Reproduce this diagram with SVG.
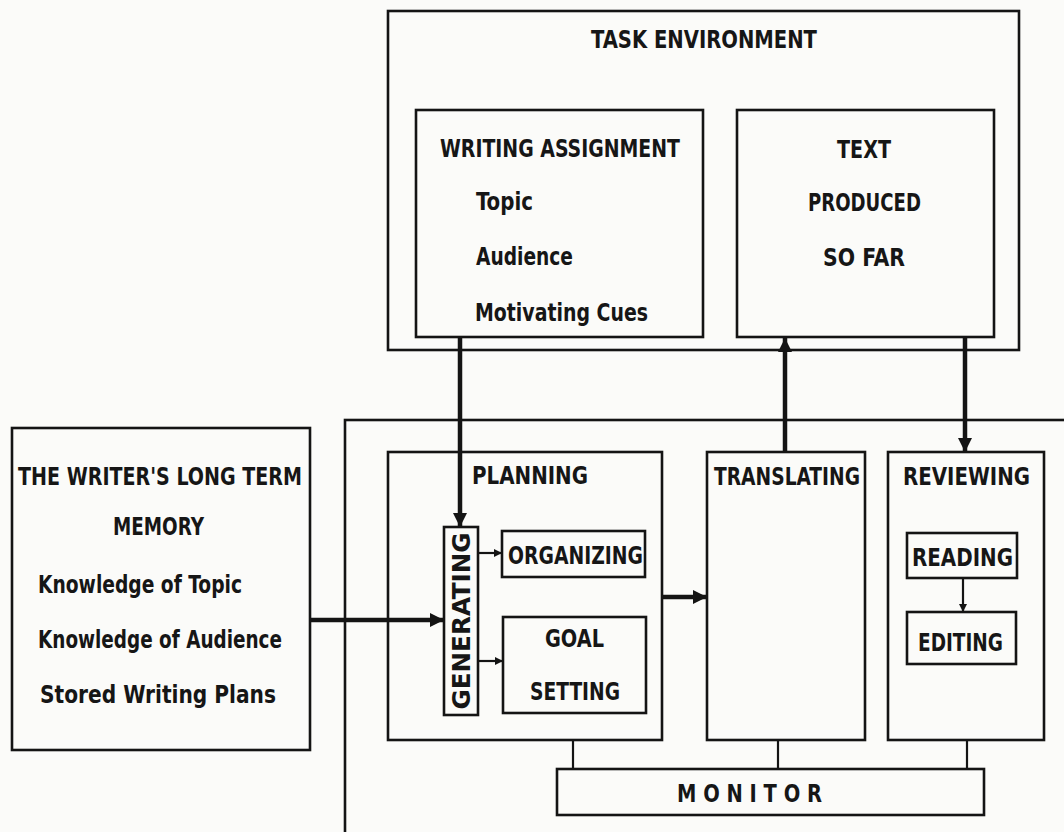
<svg xmlns="http://www.w3.org/2000/svg" width="1064" height="832" viewBox="0 0 1064 832">
  <defs>
    <style>
      .box { fill: none; stroke: #141414; stroke-width: 2.6; }
      .bg { fill: #fbfbf9; }
      .t { font-family: "DejaVu Sans Condensed", "DejaVu Sans", sans-serif; font-weight: bold; font-size: 25px; fill: #161616; }
      .heavy { stroke: #141414; stroke-width: 4.5; fill: none; }
      .thin { stroke: #141414; stroke-width: 2.2; fill: none; }
    </style>
    <marker id="bigHead" viewBox="0 0 10 10" refX="10" refY="5" markerUnits="userSpaceOnUse" markerWidth="24" markerHeight="14" orient="auto">
      <path d="M0,0 L10,5 L0,10 Z" fill="#141414"/>
    </marker>
    <marker id="smallHead" viewBox="0 0 10 10" refX="10" refY="5" markerUnits="userSpaceOnUse" markerWidth="12" markerHeight="8" orient="auto">
      <path d="M0,0 L10,5 L0,10 Z" fill="#141414"/>
    </marker>
  </defs>

  <rect class="bg" x="0" y="0" width="1064" height="832"/>

  <!-- Task environment -->
  <g id="task-environment">
    <rect class="box" x="388" y="11" width="631" height="339"/>
    <text class="t" x="591" y="48" textLength="226" lengthAdjust="spacingAndGlyphs">TASK ENVIRONMENT</text>
  </g>

  <g id="writing-assignment">
    <rect class="box" x="416" y="110" width="287" height="227"/>
    <text class="t" x="440" y="157" textLength="240" lengthAdjust="spacingAndGlyphs">WRITING ASSIGNMENT</text>
    <text class="t" x="476" y="210" textLength="57" lengthAdjust="spacingAndGlyphs">Topic</text>
    <text class="t" x="476" y="265" textLength="97" lengthAdjust="spacingAndGlyphs">Audience</text>
    <text class="t" x="475" y="321" textLength="173" lengthAdjust="spacingAndGlyphs">Motivating Cues</text>
  </g>

  <g id="text-produced">
    <rect class="box" x="737" y="110" width="257" height="227"/>
    <text class="t" x="837" y="158" textLength="54" lengthAdjust="spacingAndGlyphs">TEXT</text>
    <text class="t" x="808" y="211" textLength="113" lengthAdjust="spacingAndGlyphs">PRODUCED</text>
    <text class="t" x="823" y="266" textLength="82" lengthAdjust="spacingAndGlyphs">SO FAR</text>
  </g>

  <!-- Long term memory -->
  <g id="long-term-memory">
    <rect class="box" x="12" y="428" width="298" height="322"/>
    <text class="t" x="18" y="485" textLength="284" lengthAdjust="spacingAndGlyphs">THE WRITER'S LONG TERM</text>
    <text class="t" x="113" y="535" textLength="91" lengthAdjust="spacingAndGlyphs">MEMORY</text>
    <text class="t" x="38" y="593" textLength="204" lengthAdjust="spacingAndGlyphs">Knowledge of Topic</text>
    <text class="t" x="38" y="648" textLength="244" lengthAdjust="spacingAndGlyphs">Knowledge of Audience</text>
    <text class="t" x="40" y="703" textLength="236" lengthAdjust="spacingAndGlyphs">Stored Writing Plans</text>
  </g>

  <!-- Writing processes frame (runs off the page right and below) -->
  <g id="writing-processes">
    <rect class="box" x="345" y="420" width="740" height="430"/>
  </g>

  <g id="planning">
    <rect class="box" x="388" y="452" width="274" height="288"/>
    <text class="t" x="472" y="484" textLength="116" lengthAdjust="spacingAndGlyphs">PLANNING</text>
  </g>

  <g id="generating">
    <rect class="box" x="444" y="527" width="34" height="188"/>
    <text class="t" transform="translate(470 621) rotate(-90)" x="0" y="0" text-anchor="middle" textLength="177" lengthAdjust="spacingAndGlyphs">GENERATING</text>
  </g>

  <g id="organizing">
    <rect class="box" x="502" y="531" width="143" height="46"/>
    <text class="t" x="508" y="564" textLength="135" lengthAdjust="spacingAndGlyphs">ORGANIZING</text>
  </g>

  <g id="goal-setting">
    <rect class="box" x="503" y="617" width="143" height="96"/>
    <text class="t" x="545" y="647" textLength="59" lengthAdjust="spacingAndGlyphs">GOAL</text>
    <text class="t" x="530" y="700" textLength="90" lengthAdjust="spacingAndGlyphs">SETTING</text>
  </g>

  <g id="translating">
    <rect class="box" x="707" y="452" width="158" height="288"/>
    <text class="t" x="714" y="485" textLength="146" lengthAdjust="spacingAndGlyphs">TRANSLATING</text>
  </g>

  <g id="reviewing">
    <rect class="box" x="888" y="452" width="156" height="288"/>
    <text class="t" x="903" y="485" textLength="127" lengthAdjust="spacingAndGlyphs">REVIEWING</text>
  </g>

  <g id="reading">
    <rect class="box" x="907" y="533" width="110" height="45"/>
    <text class="t" x="912" y="566" textLength="101" lengthAdjust="spacingAndGlyphs">READING</text>
  </g>

  <g id="editing">
    <rect class="box" x="907" y="612" width="109" height="52"/>
    <text class="t" x="918" y="651" textLength="85" lengthAdjust="spacingAndGlyphs">EDITING</text>
  </g>

  <g id="monitor">
    <rect class="box" x="557" y="769" width="427" height="46"/>
    <text class="t" x="677" y="802" textLength="145" lengthAdjust="spacingAndGlyphs">M O N I T O R</text>
  </g>

  <!-- Connectors -->
  <g id="connectors">
    <line class="heavy" x1="460" y1="337" x2="460" y2="527" marker-end="url(#bigHead)"/>
    <line class="heavy" x1="785" y1="452" x2="785" y2="338" marker-end="url(#bigHead)"/>
    <line class="heavy" x1="965" y1="337" x2="965" y2="452" marker-end="url(#bigHead)"/>
    <line class="heavy" x1="310" y1="620" x2="444" y2="620" marker-end="url(#bigHead)"/>
    <line class="heavy" x1="662" y1="597" x2="707" y2="597" marker-end="url(#bigHead)"/>
    <line class="thin" x1="478" y1="553" x2="502" y2="553" marker-end="url(#smallHead)"/>
    <line class="thin" x1="478" y1="661" x2="503" y2="661" marker-end="url(#smallHead)"/>
    <line class="thin" x1="963" y1="578" x2="963" y2="612" marker-end="url(#smallHead)"/>
    <line class="thin" x1="573" y1="740" x2="573" y2="769"/>
    <line class="thin" x1="778" y1="740" x2="778" y2="769"/>
    <line class="thin" x1="967" y1="740" x2="967" y2="769"/>
  </g>
</svg>
